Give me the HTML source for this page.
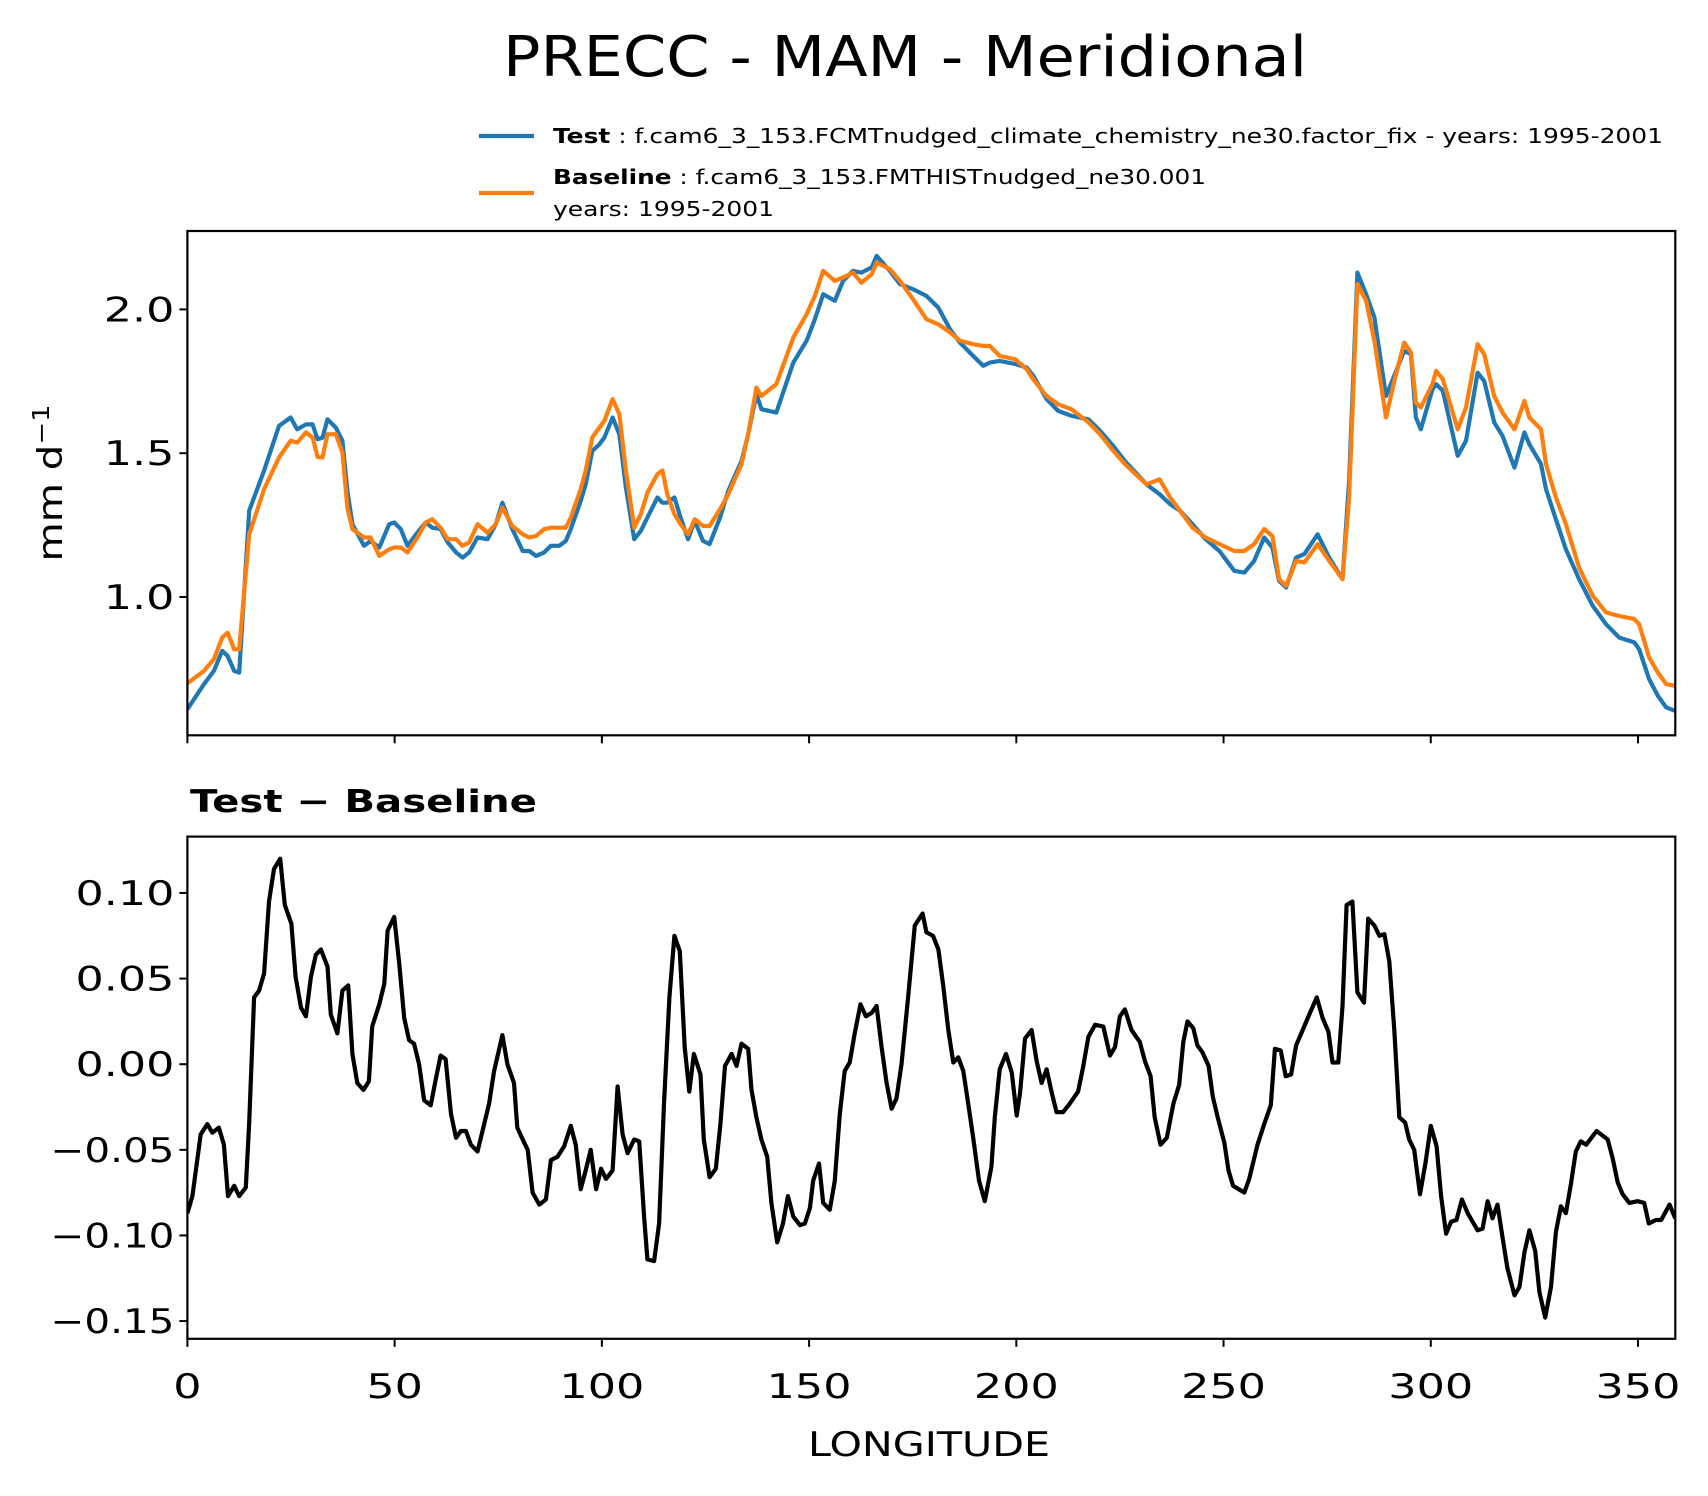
<!DOCTYPE html>
<html><head><meta charset="utf-8"><style>
html,body{margin:0;padding:0;background:#fff;}
svg{display:block;font-family:"DejaVu Sans","Liberation Sans",sans-serif;}
</style></head><body>
<svg id="fig" width="1708" height="1496" viewBox="0 0 1708 1496" xmlns="http://www.w3.org/2000/svg">
<rect width="1708" height="1496" fill="#fff"/>
<text x="905" y="76" font-size="56" text-anchor="middle" textLength="804" lengthAdjust="spacingAndGlyphs">PRECC - MAM - Meridional</text>
<g>
<line x1="479" y1="136" x2="534" y2="136" stroke="#1f77b4" stroke-width="4.2"/>
<text x="553" y="143" font-size="20" textLength="1110" lengthAdjust="spacingAndGlyphs"><tspan font-weight="bold">Test</tspan> : f.cam6_3_153.FCMTnudged_climate_chemistry_ne30.factor_fix - years: 1995-2001</text>
<line x1="479" y1="193" x2="534" y2="193" stroke="#ff7f0e" stroke-width="4.2"/>
<text x="553" y="184" font-size="20" textLength="653" lengthAdjust="spacingAndGlyphs"><tspan font-weight="bold">Baseline</tspan> : f.cam6_3_153.FMTHISTnudged_ne30.001</text>
<text x="553" y="216" font-size="20" textLength="221" lengthAdjust="spacingAndGlyphs">years: 1995-2001</text>
</g>
<text transform="translate(62,483) rotate(-90)" font-size="34" text-anchor="middle" textLength="157" lengthAdjust="spacingAndGlyphs">mm d<tspan font-size="23" dy="-13">−1</tspan></text>
<text x="190" y="812" font-size="31" font-weight="bold" textLength="347" lengthAdjust="spacingAndGlyphs">Test − Baseline</text>
<text x="929" y="1456" font-size="34" text-anchor="middle" textLength="242" lengthAdjust="spacingAndGlyphs">LONGITUDE</text>
<g id="top"></g>
<g id="bot"></g>
</svg>
<script>
const lonTop=[0,4,6.4,8.4,9.7,11.3,12.5,14.9,18.5,22.1,24.9,26.5,28.6,30.2,31.4,32.6,33.8,35.8,37.4,38.6,39.8,42.6,44.2,46.3,48.7,49.9,51.5,53.1,55.5,57.5,59.1,61.1,62.8,64.8,66.4,68,70,72.4,74.4,76,78.4,80.9,82.5,84.1,86.1,87.7,89.7,91.3,92.5,94.9,96.1,97.7,99.4,100.6,102.6,104.2,105.8,107.8,109.4,111,113.4,114.6,115.8,117.5,119,120.8,122.4,124.4,126,128.5,130.5,133.7,135.3,137.3,138.5,142.1,146.2,149.4,151.4,153.4,156.2,158.2,160.6,162.6,165.1,166.3,169.5,171.9,175.1,178.3,181.2,184,186.4,189.6,192,193.6,196,199.7,202.5,204.1,207.3,210.1,213.3,217.4,220.2,223.4,226.2,231.4,234.6,237.1,239.5,242.5,245.7,249,252.6,255,257.4,259.8,261.8,263.4,265.1,267.5,269.5,272.7,275.5,278.7,280.3,282.3,284.4,286.4,289.2,291.2,293.6,295.2,296.4,297.6,300.4,301.3,302.9,306.5,308.5,311.3,312.9,315.3,317.3,320.2,322.6,323.8,326.6,327.8,330.2,332.6,335.8,339.1,342.3,345.5,349.1,350.3,352.7,354.8,356.8,359];
const testVals=[0.61,0.697,0.743,0.813,0.795,0.743,0.737,1.30,1.44,1.595,1.624,1.583,1.60,1.60,1.549,1.554,1.618,1.589,1.543,1.369,1.253,1.178,1.195,1.172,1.253,1.259,1.236,1.178,1.224,1.259,1.241,1.236,1.19,1.155,1.137,1.155,1.207,1.201,1.253,1.328,1.236,1.16,1.16,1.143,1.155,1.178,1.178,1.195,1.236,1.334,1.392,1.508,1.531,1.554,1.624,1.566,1.381,1.201,1.23,1.276,1.346,1.328,1.328,1.346,1.276,1.201,1.265,1.195,1.184,1.276,1.369,1.473,1.566,1.705,1.653,1.641,1.815,1.891,1.966,2.053,2.03,2.099,2.134,2.128,2.146,2.186,2.134,2.088,2.07,2.047,2.006,1.931,1.885,1.838,1.804,1.815,1.821,1.81,1.798,1.769,1.688,1.647,1.63,1.618,1.578,1.525,1.473,1.392,1.357,1.323,1.3,1.253,1.201,1.16,1.091,1.085,1.126,1.207,1.172,1.056,1.033,1.137,1.149,1.218,1.137,1.062,1.404,2.128,2.053,1.972,1.699,1.769,1.856,1.844,1.624,1.583,1.722,1.74,1.717,1.491,1.543,1.78,1.751,1.607,1.56,1.45,1.572,1.531,1.462,1.375,1.27,1.166,1.062,0.969,0.905,0.859,0.842,0.818,0.714,0.656,0.616,0.604];
const baseVals=[0.70,0.743,0.784,0.859,0.876,0.818,0.818,1.218,1.375,1.485,1.543,1.537,1.572,1.555,1.487,1.485,1.566,1.566,1.502,1.311,1.236,1.207,1.207,1.143,1.166,1.172,1.172,1.155,1.207,1.259,1.27,1.241,1.201,1.201,1.178,1.19,1.253,1.224,1.253,1.311,1.247,1.218,1.207,1.212,1.236,1.241,1.241,1.241,1.276,1.375,1.44,1.555,1.589,1.612,1.688,1.636,1.44,1.241,1.288,1.363,1.427,1.44,1.357,1.288,1.253,1.218,1.27,1.247,1.247,1.305,1.357,1.462,1.566,1.728,1.699,1.74,1.902,1.983,2.047,2.134,2.099,2.111,2.128,2.093,2.122,2.163,2.14,2.099,2.035,1.966,1.948,1.92,1.891,1.879,1.873,1.873,1.838,1.827,1.792,1.757,1.699,1.67,1.653,1.607,1.566,1.508,1.462,1.392,1.409,1.346,1.3,1.241,1.207,1.184,1.16,1.16,1.184,1.236,1.212,1.062,1.039,1.126,1.12,1.184,1.126,1.062,1.346,2.088,2.03,1.891,1.624,1.751,1.885,1.85,1.676,1.659,1.74,1.786,1.757,1.583,1.659,1.879,1.844,1.699,1.641,1.583,1.682,1.624,1.583,1.462,1.346,1.253,1.102,1.004,0.946,0.934,0.923,0.905,0.789,0.737,0.697,0.691];
const lonDiff=[0,1.2,3.2,4.8,6,7.6,8.8,9.8,11.3,12.5,14.1,14.9,16.1,17.3,18.5,19.7,20.9,22.4,23.5,25.1,26.1,27.4,28.6,29.8,31,32.2,33.8,34.6,36.2,37.4,38.8,39.8,41,42.5,43.8,44.6,46.3,47.5,48.3,49.9,51.1,52.3,53.5,54.7,55.9,57.1,58.7,59.9,61.1,62.3,63.6,64.8,66,67.2,68.4,70,71.2,72.8,74,76,77.2,78.8,79.6,80.9,82.1,83.3,84.9,86.5,87.7,89.3,90.9,92.5,93.7,94.9,96.1,97.3,98.6,99.8,101,102.6,103.8,105,106.2,107.8,109,110.2,111,112.6,113.8,115,116.3,117.5,118.8,120,121.1,122.2,123.8,124.6,126,127.5,128.6,129.7,131.3,132.5,133.7,135.3,136.1,137.3,138.5,139.9,140.9,142.3,143.7,144.9,146.2,147.8,149,150.2,151,152.4,153.4,155,156.2,157.4,158.6,159.8,161,162.4,163.7,165.1,166.3,167.5,168.7,169.9,171.1,172.3,173.9,175.5,177.4,178.3,179.9,181.2,182.4,183.6,184.8,186,187.2,188.4,189.6,191,192.4,194,194.8,196,197.5,198.9,200.1,200.9,202.1,203.7,204.9,206.1,207.3,208.5,209.7,211.3,212.9,214.9,216.1,217.4,219,221,222.6,223.8,225,226.2,227.8,229.8,231,232.4,233.4,234.8,236.3,237.9,239.3,240.3,241.3,242.7,243.7,244.9,246.4,247.4,248.6,250.2,251.2,252.3,255,256.2,258.2,259.8,261.4,262.4,263.8,265,266.3,267.5,269.1,270.7,272.5,273.9,275.3,276.3,277.7,278.7,279.7,281.1,282.3,283.9,284.9,286.4,287.6,288.8,290,291.2,292.4,293.8,294.8,296,297.4,298.7,300,301.4,302.5,303.7,304.9,306.2,307.5,308.9,310.1,311.3,312.5,313.7,314.9,316.1,317.3,318.5,320.2,321.4,322.6,323.8,325.2,326.2,327.6,329,330.2,331.4,332.6,333.8,335,336.2,337.5,340,342.7,343.9,345.1,346.3,347.9,349.9,351.5,352.6,354.3,355.6,357.6,359];
const diffVals=[-0.087,-0.077,-0.041,-0.035,-0.040,-0.037,-0.047,-0.077,-0.071,-0.077,-0.072,-0.034,0.039,0.043,0.053,0.095,0.114,0.120,0.093,0.082,0.051,0.033,0.028,0.051,0.064,0.067,0.057,0.029,0.018,0.043,0.046,0.006,-0.011,-0.015,-0.010,0.022,0.035,0.047,0.078,0.086,0.059,0.027,0.014,0.012,0.000,-0.021,-0.024,-0.009,0.005,0.003,-0.029,-0.043,-0.039,-0.039,-0.047,-0.051,-0.039,-0.023,-0.004,0.017,0.000,-0.011,-0.037,-0.044,-0.050,-0.075,-0.082,-0.079,-0.056,-0.054,-0.048,-0.036,-0.047,-0.073,-0.062,-0.050,-0.073,-0.061,-0.067,-0.062,-0.013,-0.041,-0.052,-0.044,-0.045,-0.089,-0.114,-0.115,-0.093,-0.023,0.039,0.075,0.066,0.010,-0.016,0.006,-0.006,-0.044,-0.066,-0.061,-0.035,-0.001,0.006,-0.001,0.012,0.009,-0.015,-0.031,-0.044,-0.054,-0.081,-0.104,-0.093,-0.077,-0.089,-0.094,-0.093,-0.084,-0.068,-0.058,-0.081,-0.085,-0.068,-0.029,-0.004,0.001,0.018,0.035,0.028,0.030,0.034,0.010,-0.011,-0.026,-0.020,0.000,0.039,0.081,0.088,0.077,0.075,0.067,0.045,0.020,0.001,0.004,-0.004,-0.023,-0.043,-0.068,-0.080,-0.060,-0.031,-0.003,0.006,-0.005,-0.030,-0.017,0.015,0.020,0.002,-0.011,-0.003,-0.016,-0.028,-0.028,-0.023,-0.016,-0.002,0.016,0.023,0.022,0.005,0.010,0.028,0.032,0.020,0.013,0.002,-0.007,-0.031,-0.047,-0.043,-0.023,-0.012,0.013,0.025,0.021,0.011,0.007,-0.001,-0.019,-0.031,-0.046,-0.062,-0.071,-0.075,-0.067,-0.047,-0.035,-0.024,0.009,0.008,-0.007,-0.006,0.011,0.020,0.029,0.039,0.027,0.019,0.001,0.001,0.034,0.093,0.095,0.042,0.036,0.085,0.081,0.075,0.076,0.060,0.020,-0.031,-0.034,-0.044,-0.050,-0.076,-0.058,-0.036,-0.048,-0.077,-0.099,-0.092,-0.091,-0.079,-0.087,-0.092,-0.097,-0.096,-0.080,-0.090,-0.082,-0.101,-0.119,-0.135,-0.130,-0.110,-0.097,-0.109,-0.133,-0.148,-0.130,-0.098,-0.083,-0.087,-0.070,-0.051,-0.045,-0.047,-0.039,-0.044,-0.055,-0.069,-0.076,-0.081,-0.080,-0.081,-0.093,-0.091,-0.091,-0.082,-0.090];
const xTicks=[0,50,100,150,200,250,300,350];
const xTickLabels=["0","50","100","150","200","250","300","350"];
const topTicks=[1.0,1.5,2.0];
const topTickLabels=["1.0","1.5","2.0"];
const botTicks=[0.10,0.05,0.00,-0.05,-0.10,-0.15];
const botTickLabels=["0.10","0.05","0.00","\u22120.05","\u22120.10","\u22120.15"];

const NS="http://www.w3.org/2000/svg";
const L=187.4,R=1675.3,X0=0,X1=359;
const xs=v=>L+(v-X0)/(X1-X0)*(R-L);
const TT=231,TB=735.3,yTop=v=>597-(v-1)*287.6;
const BT=836.6,BB=1338.8,yBot=v=>1064.2-v*1712.4;
function mk(tag,attrs,parent){const e=document.createElementNS(NS,tag);for(const k in attrs)e.setAttribute(k,attrs[k]);parent.appendChild(e);return e;}
function path(xv,yv,fx,fy){return xv.map((x,i)=>(i?'L':'M')+fx(x).toFixed(1)+' '+fy(yv[i]).toFixed(1)).join(' ');}
function labW(s){let w=0;for(const c of s){w+=c==='.'?14:(c==='\u2212'?25:28.3);}return w.toFixed(1);}
const topG=document.getElementById('top'),botG=document.getElementById('bot');
const defs=mk('defs',{},document.getElementById('fig'));
const c1=mk('clipPath',{id:'ct'},defs);mk('rect',{x:L,y:TT,width:R-L,height:TB-TT},c1);
const c2=mk('clipPath',{id:'cb'},defs);mk('rect',{x:L,y:BT,width:R-L,height:BB-BT},c2);

let p=mk('path',{d:path(lonTop,testVals,xs,yTop),fill:'none',stroke:'#1f77b4','stroke-width':4.2,'stroke-linejoin':'round','clip-path':'url(#ct)'},topG);


p=mk('path',{d:path(lonTop,baseVals,xs,yTop),fill:'none',stroke:'#ff7f0e','stroke-width':4.2,'stroke-linejoin':'round','clip-path':'url(#ct)'},topG);


p=mk('path',{d:path(lonDiff,diffVals,xs,yBot),fill:'none',stroke:'#000','stroke-width':4.2,'stroke-linejoin':'round','clip-path':'url(#cb)'},botG);



let f=mk('rect',{x:L,y:TT,width:R-L,height:TB-TT,fill:'none',stroke:'#000','stroke-width':2.2},topG);


f=mk('rect',{x:L,y:BT,width:R-L,height:BB-BT,fill:'none',stroke:'#000','stroke-width':2.2},botG);



xTicks.forEach((t,i)=>{
  const x=xs(t);
  let l=mk('line',{x1:x,y1:TB,x2:x,y2:TB+8,stroke:'#000','stroke-width':2},topG);
  
  
  l=mk('line',{x1:x,y1:BB,x2:x,y2:BB+8,stroke:'#000','stroke-width':2},botG);
  
  
  const tx=mk('text',{x:x,y:1398,'font-size':34,'text-anchor':'middle',textLength:labW(xTickLabels[i]),lengthAdjust:'spacingAndGlyphs'},botG);
  tx.textContent=xTickLabels[i];
  
  
});
topTicks.forEach((t,i)=>{
  const y=yTop(t);
  const l=mk('line',{x1:L-8,y1:y,x2:L,y2:y,stroke:'#000','stroke-width':2},topG);
  
  
  const tx=mk('text',{x:L-13,y:y+12,'font-size':34,'text-anchor':'end',textLength:labW(topTickLabels[i]),lengthAdjust:'spacingAndGlyphs'},topG);
  tx.textContent=topTickLabels[i];
  
  
});
botTicks.forEach((t,i)=>{
  const y=yBot(t);
  const l=mk('line',{x1:L-8,y1:y,x2:L,y2:y,stroke:'#000','stroke-width':2},botG);
  
  
  const tx=mk('text',{x:L-13,y:y+12,'font-size':34,'text-anchor':'end',textLength:labW(botTickLabels[i]),lengthAdjust:'spacingAndGlyphs'},botG);
  tx.textContent=botTickLabels[i];
  
  
});
</script>
</body></html>
